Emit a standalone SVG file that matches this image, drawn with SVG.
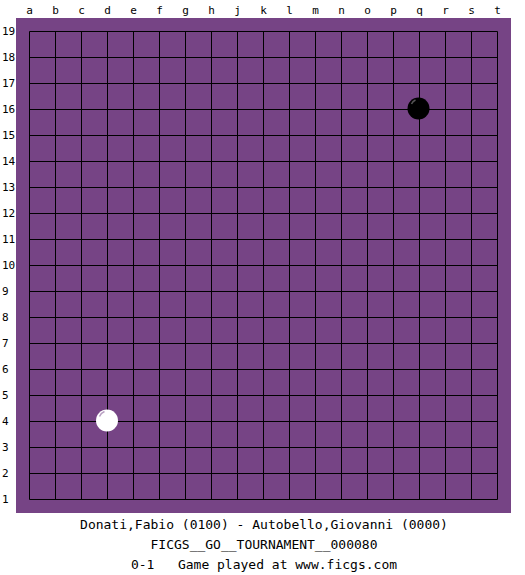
<svg xmlns="http://www.w3.org/2000/svg" width="525" height="575" viewBox="0 0 525 575">
<style>
.lbl{font-family:"DejaVu Sans Mono","Liberation Mono",monospace;font-size:11px;fill:#000}
.cap{font-family:"DejaVu Sans Mono","Liberation Mono",monospace;font-size:13px;fill:#000;text-anchor:middle}
.g{stroke:#000;stroke-width:1;fill:none}
</style>
<rect width="525" height="575" fill="#fff"/>
<rect id="board" x="16" y="18" width="495" height="495" fill="#764485"/>
<g id="grid" class="g">
<path d="M29.5 31.5V499.5M55.5 31.5V499.5M81.5 31.5V499.5M107.5 31.5V499.5M133.5 31.5V499.5M159.5 31.5V499.5M185.5 31.5V499.5M211.5 31.5V499.5M237.5 31.5V499.5M263.5 31.5V499.5M289.5 31.5V499.5M315.5 31.5V499.5M341.5 31.5V499.5M367.5 31.5V499.5M393.5 31.5V499.5M419.5 31.5V499.5M445.5 31.5V499.5M471.5 31.5V499.5M497.5 31.5V499.5"/>
<path d="M29.5 31.5H497.5M29.5 57.5H497.5M29.5 83.5H497.5M29.5 109.5H497.5M29.5 135.5H497.5M29.5 161.5H497.5M29.5 187.5H497.5M29.5 213.5H497.5M29.5 239.5H497.5M29.5 265.5H497.5M29.5 291.5H497.5M29.5 317.5H497.5M29.5 343.5H497.5M29.5 369.5H497.5M29.5 395.5H497.5M29.5 421.5H497.5M29.5 447.5H497.5M29.5 473.5H497.5M29.5 499.5H497.5"/>
</g>
<g id="cols" class="lbl" text-anchor="middle">
<text x="29.5" y="14">a</text><text x="55.5" y="14">b</text><text x="81.5" y="14">c</text><text x="107.5" y="14">d</text><text x="133.5" y="14">e</text><text x="159.5" y="14">f</text><text x="185.5" y="14">g</text><text x="211.5" y="14">h</text><text x="237.5" y="14">j</text><text x="263.5" y="14">k</text><text x="289.5" y="14">l</text><text x="315.5" y="14">m</text><text x="341.5" y="14">n</text><text x="367.5" y="14">o</text><text x="393.5" y="14">p</text><text x="419.5" y="14">q</text><text x="445.5" y="14">r</text><text x="471.5" y="14">s</text><text x="497.5" y="14">t</text>
</g>
<g id="rows" class="lbl">
<text x="2" y="35">19</text><text x="2" y="61">18</text><text x="2" y="87">17</text><text x="2" y="113">16</text><text x="2" y="139">15</text><text x="2" y="165">14</text><text x="2" y="191">13</text><text x="2" y="217">12</text><text x="2" y="243">11</text><text x="2" y="269">10</text><text x="2" y="295">9</text><text x="2" y="321">8</text><text x="2" y="347">7</text><text x="2" y="373">6</text><text x="2" y="399">5</text><text x="2" y="425">4</text><text x="2" y="451">3</text><text x="2" y="477">2</text><text x="2" y="503">1</text>
</g>
<g id="white-d4">
<circle cx="107" cy="420.5" r="11" fill="#fff"/>
<path d="M99.5 416.5a9 9 0 0 1 5-5" stroke="#b9a0c2" stroke-width="1.5" fill="none"/>
</g>
<g id="black-q16">
<circle cx="418.5" cy="108.5" r="11" fill="#000"/>
<path d="M411.5 104a8 8 0 0 1 4-4" stroke="#555" stroke-width="1.5" fill="none"/>
</g>
<g id="caption">
<text class="cap" x="264" y="529">Donati,Fabio (0100) - Autobello,Giovanni (0000)</text>
<text class="cap" x="264" y="549">FICGS__GO__TOURNAMENT__000080</text>
<text class="cap" x="264" y="569" xml:space="preserve">0-1   Game played at www.ficgs.com</text>
</g>
</svg>
